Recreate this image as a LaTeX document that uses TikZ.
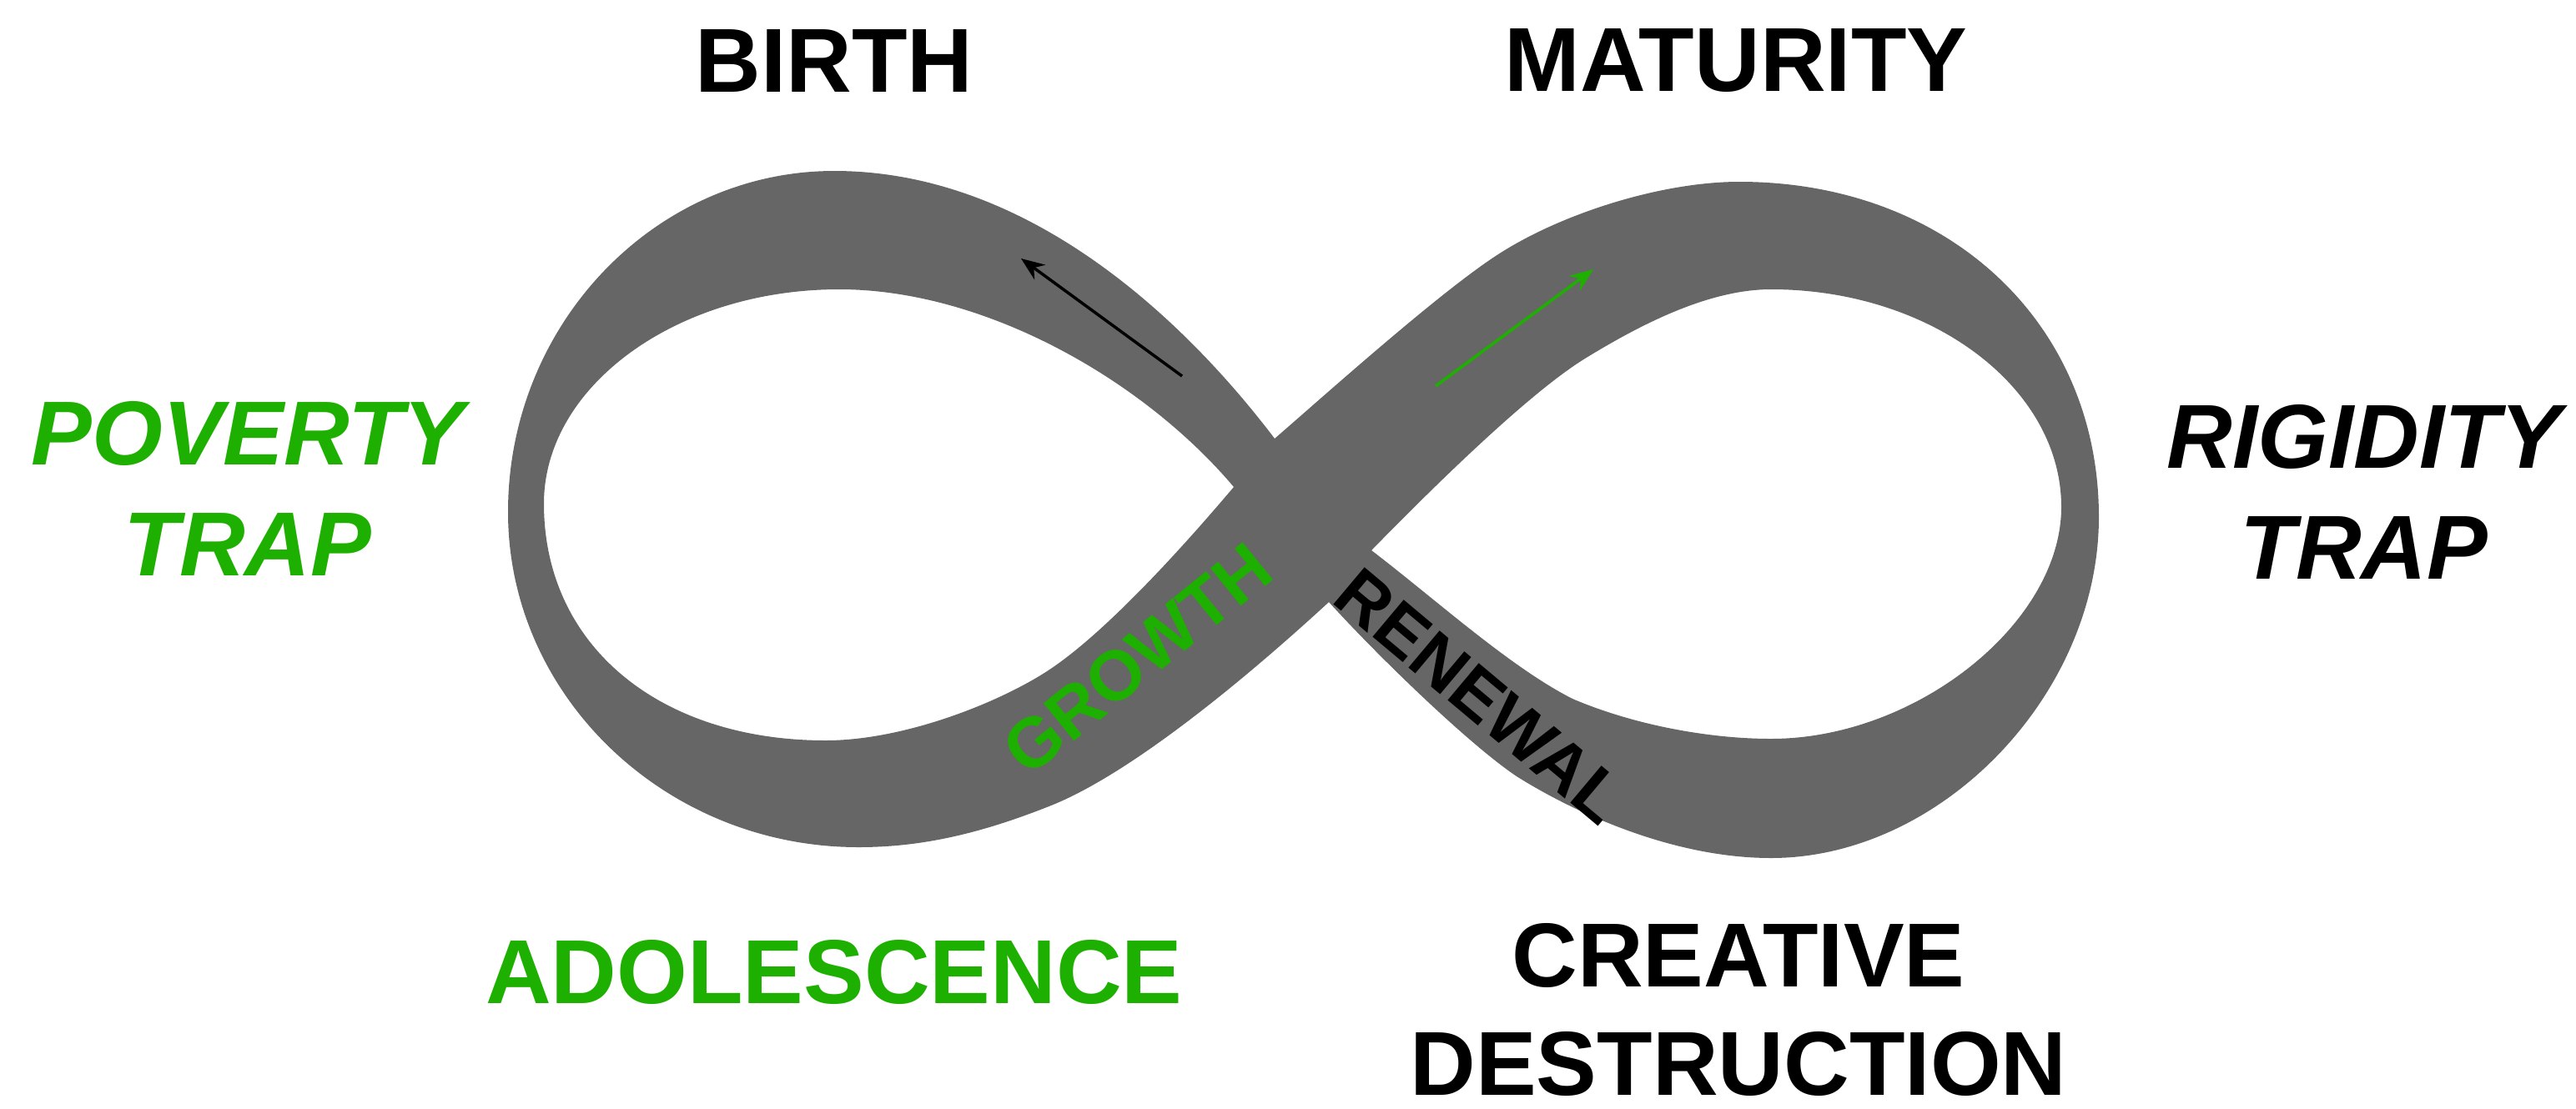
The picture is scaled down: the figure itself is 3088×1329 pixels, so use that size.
\documentclass[tikz,border=0pt]{standalone}
\usepackage{fontspec}
\setmainfont{Liberation Sans}
\usetikzlibrary{arrows.meta}
\definecolor{ribbongray}{RGB}{102,102,102}
\definecolor{leafgreen}{RGB}{30,176,0}
\begin{document}
\begin{tikzpicture}[x=0.1mm,y=-0.1mm,
  stage/.style={font=\fontsize{31}{37}\selectfont\bfseries,align=center,inner sep=0pt},
  trap/.style={stage,font=\fontsize{31}{38}\selectfont\bfseries\itshape},
  band/.style={font=\fontsize{24}{28}\selectfont\bfseries,inner sep=0pt},
  flow/.style={-{Stealth[length=2.8mm,width=2.2mm]},line width=1pt}]
\useasboundingbox (0,0) rectangle (3088,1329);
% the ribbon: outline, then the two holes
\fill[ribbongray,even odd rule]
  (1528,526) .. controls (1588,474) and (1726,350) .. (1796,305)
  .. controls (1870,257) and (1990,218) .. (2085,218)
  .. controls (2335,218) and (2516,387) .. (2516,620)
  .. controls (2516,833) and (2327,1029) .. (2123,1029)
  .. controls (2000,1029) and (1880,970) .. (1818,931)
  .. controls (1760,892) and (1650,785) .. (1593,722)
  .. controls (1480,826) and (1350,930) .. (1260,966)
  .. controls (1170,1002) and (1100,1016) .. (1029,1016)
  .. controls (798,1016) and (609,835) .. (609,614)
  .. controls (609,389) and (785,205) .. (1000,205)
  .. controls (1250,205) and (1440,410) .. (1528,526) -- cycle
  (1479,584) .. controls (1370,455) and (1180,347) .. (1006,347)
  .. controls (811,347) and (652,463) .. (652,604)
  .. controls (652,774) and (790,888) .. (990,888)
  .. controls (1080,888) and (1190,846) .. (1252,807)
  .. controls (1330,758) and (1440,630) .. (1479,584) -- cycle
  (1644,660) .. controls (1725,577) and (1835,470) .. (1900,430)
  .. controls (1970,387) and (2050,347) .. (2123,347)
  .. controls (2314,347) and (2471,464) .. (2471,608)
  .. controls (2471,747) and (2297,886) .. (2123,886)
  .. controls (2050,886) and (1960,870) .. (1885,838)
  .. controls (1810,800) and (1720,718) .. (1644,660) -- cycle;
% labels
\node[stage] (birth) at (1000,73) {BIRTH};
\node[stage] (maturity) at (2081,73) {MATURITY};
\node[trap,text=leafgreen] (poverty) at (297,586) {POVERTY\\TRAP};
\node[trap] (rigidity) at (2834,590) {RIGIDITY\\TRAP};
\node[stage,text=leafgreen] (adolescence) at (1000,1166) {ADOLESCENCE};
\node[stage] (destruction) at (2084,1211) {CREATIVE\\DESTRUCTION};
\node[band,text=leafgreen,rotate=39] (growth) at (1363,790) {GROWTH};
\node[band,rotate=-40] (renewal) at (1775,835) {RENEWAL};
% arrows
\coordinate (backtail) at (1417,451);
\coordinate (backhead) at (1224,310);
\coordinate (fronttail) at (1721,463);
\coordinate (fronthead) at (1910,323);
\draw[flow] (backtail) -- (backhead);
\draw[flow,leafgreen] (fronttail) -- (fronthead);
\end{tikzpicture}
\end{document}
